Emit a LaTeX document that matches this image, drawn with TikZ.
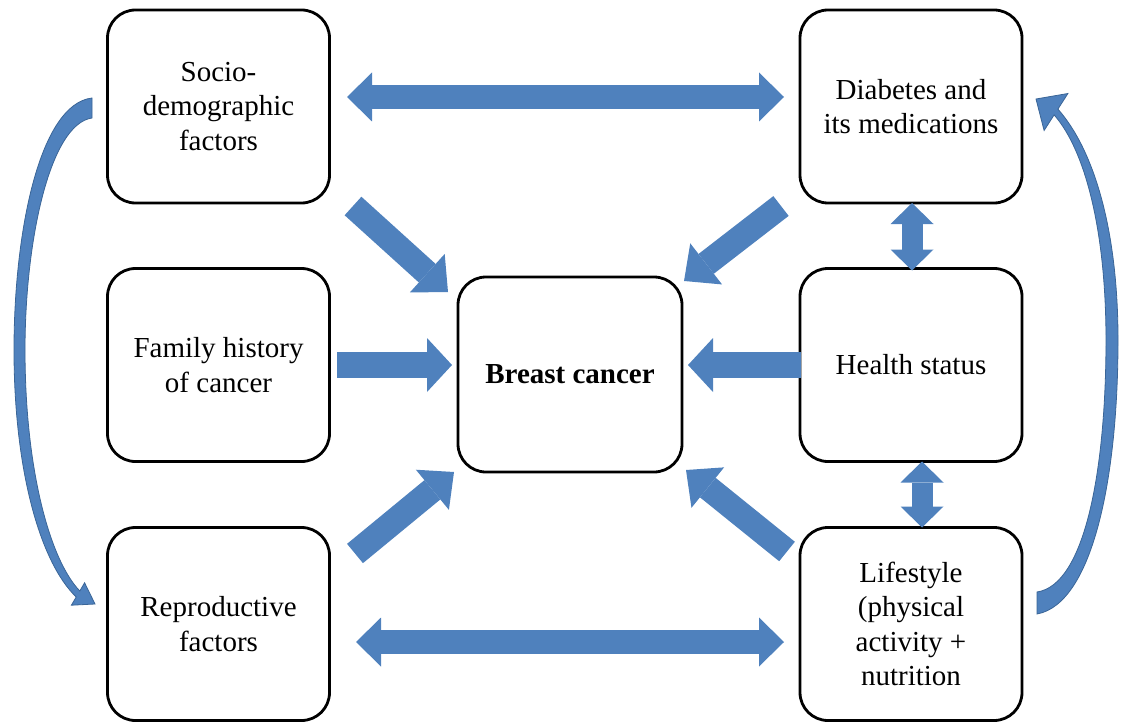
\documentclass[tikz,border=0pt]{standalone}
\usepackage{fontspec}
\setmainfont{Liberation Serif}
\usetikzlibrary{arrows.meta}
\definecolor{arrowfill}{HTML}{4F81BD}
\definecolor{arrowedge}{HTML}{3A6597}
\begin{document}
\begin{tikzpicture}[x=1pt,y=-1pt,
  box/.style={draw=black, line width=2.8pt, rounded corners=28pt, fill=white,
    minimum width=222pt, minimum height=193pt, outer sep=0pt, inner sep=0pt,
    align=center, font=\fontsize{29}{34.5}\selectfont},
  tipA/.style={-{Triangle[width=54pt,length=25pt,line width=0pt]}},
  blockarrow/.style={arrowfill, line width=26pt, tipA},
  diagarrow/.style={arrowfill, line width=25pt, -{Triangle[width=52pt,length=28pt,line width=0pt]}},
  wideboth/.style={arrowfill, line width=24pt,
    {Triangle[width=49pt,length=25pt,line width=0pt]}-{Triangle[width=49pt,length=25pt,line width=0pt]}},
  smallboth/.style={arrowfill, line width=21pt,
    {Triangle[width=43pt,length=21pt,line width=0pt]}-{Triangle[width=43pt,length=21pt,line width=0pt]}},
  curved/.style={fill=arrowfill, draw=arrowedge, line width=0.8pt}
]
\useasboundingbox (0,0) rectangle (1121,722);

% boxes
\node[box] (soc) at (218.5,106.5) {Socio-\\demographic\\factors};
\node[box] (fam) at (218.5,365) {Family history\\of cancer};
\node[box] (rep) at (218.5,624) {Reproductive\\factors};
\node[box, minimum width=224pt, minimum height=195pt] (bc) at (570,374.5) {\bfseries Breast cancer};
\node[box] (dia) at (911,106.5) {Diabetes and\\its medications};
\node[box] (hea) at (911,365) {Health status};
\node[box] (lif) at (911,624) {Lifestyle\\(physical\\activity +\\nutrition};

% horizontal double arrows
\draw[wideboth] ([shift={(17.5,-9.5)}]soc.east) -- ([shift={(-16,-9.5)}]dia.west);
\draw[wideboth] ([shift={(26.5,18)}]rep.east) -- ([shift={(-16,18)}]lif.west);

% straight arrows into breast cancer
\draw[blockarrow] ([shift={(7.5,0)}]fam.east) -- ([shift={(-6,-9.5)}]bc.west);
\draw[blockarrow] ([shift={(1,0)}]hea.west) -- ([shift={(6,-9.5)}]bc.east);

% diagonal arrows
\draw[diagarrow] ([shift={(23.5,3)}]soc.south east) -- ([shift={(-10,15)}]bc.north west);
\draw[diagarrow] ([shift={(-19,3)}]dia.south west) -- ([shift={(2,4)}]bc.north east);
\draw[diagarrow] ([shift={(25.5,26)}]rep.north east) -- ([shift={(-4,0)}]bc.south west);
\draw[diagarrow] ([shift={(-13,24)}]lif.north west) -- ([shift={(4,-2)}]bc.south east);

% vertical double arrows
\draw[smallboth] ([shift={(1,0)}]dia.south) -- ([shift={(1,2)}]hea.north);
\draw[smallboth] ([shift={(11,0)}]hea.south) -- ([shift={(11,0)}]lif.north);

% left curved arrow (socio -> reproductive)
\path[curved] (92,98) .. controls (40,104) and (14,230) .. (14,350)
  .. controls (14,470) and (40,562) .. (76.2,597)
  -- (71.4,605.2) -- (95,604) -- (84.6,582.8) -- (79.8,591)
  .. controls (50,560) and (25,470) .. (25,350)
  .. controls (25,240) and (50,124) .. (92,118) -- cycle;

% right curved arrow (lifestyle -> diabetes)
\path[curved] (1037,592) .. controls (1085,585) and (1106,470) .. (1106,340)
  .. controls (1106,230) and (1085,150) .. (1054.1,114.9)
  -- (1044.1,130.5) -- (1036,99) -- (1067.9,93.5) -- (1057.9,109.1)
  .. controls (1094,150) and (1118,230) .. (1118,340)
  .. controls (1118,480) and (1092,604) .. (1037,614) -- cycle;
\end{tikzpicture}
\end{document}
